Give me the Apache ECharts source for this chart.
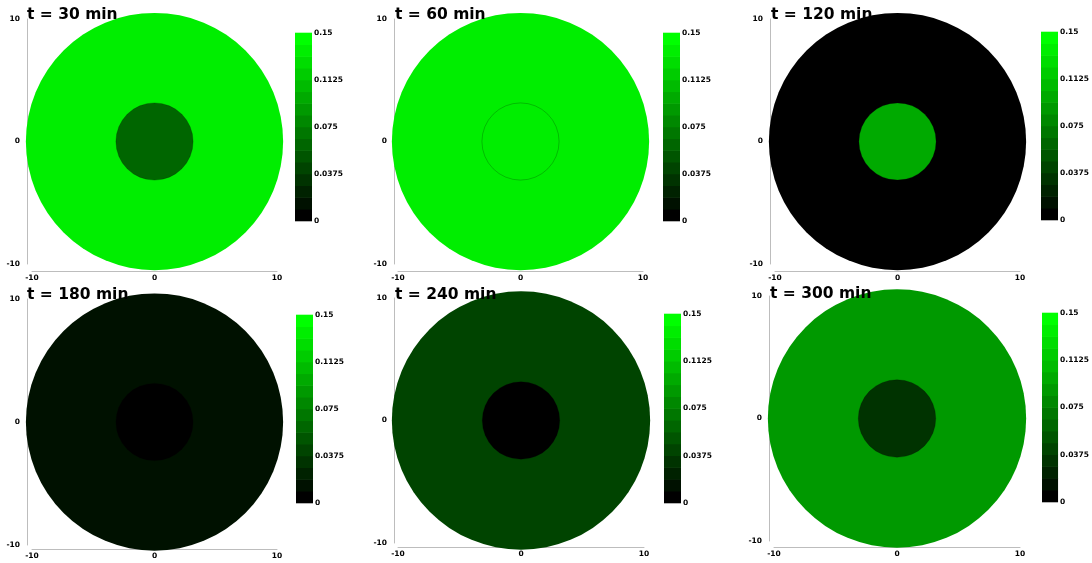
<!DOCTYPE html>
<html>
<head>
<meta charset="utf-8">
<script src="https://cdn.jsdelivr.net/npm/echarts@6/dist/echarts.min.js"></script>
<style>
html,body{margin:0;padding:0;background:#fff;}
#c{width:1092px;height:563px;}
</style>
</head>
<body>
<div id="c"></div>
<script>
// ---- data ----
const titles = ['t = 30 min', 't = 60 min', 't = 120 min', 't = 180 min', 't = 240 min', 't = 300 min'];
const outerValues = [0.135, 0.136, 0.002, 0.014, 0.040, 0.089];
const innerValues = [0.061, 0.136, 0.098, 0.003, 0.002, 0.032];
const outerRadius = 10.5;
const innerRadius = 3.15;
const axisTicks = [-10, 0, 10];
const colorbarTicks = ['0', '0.0375', '0.075', '0.1125', '0.15'];
const colorMin = 0, colorMax = 0.15;
const bandColors = ['#000000','#001100','#002200','#003300','#004400','#005500','#006600','#007700',
                    '#008800','#009900','#00aa00','#00bb00','#00cc00','#00dd00','#00ee00','#00ff00'];

// ---- layout ----
const panels = [
  {left:32,  top:19,  w:245, h:245, xOff:7, yOff:5, cbL:295,  cbT:33,  cbH:188, tL:27,  tT:7},
  {left:398, top:19,  w:245, h:245, xOff:7, yOff:4, cbL:663,  cbT:33,  cbH:188, tL:395, tT:7},
  {left:775, top:19,  w:245, h:245, xOff:7, yOff:5, cbL:1041, cbT:32,  cbH:188, tL:771, tT:7},
  {left:32,  top:299, w:245, h:246, xOff:4, yOff:5, cbL:296,  cbT:315, cbH:188, tL:27,  tT:287},
  {left:398, top:298, w:246, h:245, xOff:4, yOff:4, cbL:664,  cbT:314, cbH:189, tL:395, tT:287},
  {left:774, top:296, w:246, h:245, xOff:6, yOff:5, cbL:1042, cbT:313, cbH:189, tL:770, tT:286}
];

const nBands = bandColors.length;
const step = (colorMax - colorMin) / nBands;
const pieces = bandColors.map((c, i) => {
  const p = {gte: colorMin + i * step, color: c};
  if (i === nBands - 1) p.lte = colorMax + 1e-9; else p.lt = colorMin + (i + 1) * step;
  return p;
});
const bandData = bandColors.map((c, i) => [0, colorMin + i * step, colorMin + (i + 1) * step, colorMin + (i + 0.5) * step]);

const labelFont = {fontSize: 7.5, fontWeight: 'bold', color: '#000', fontFamily: 'DejaVu Sans'};
const axisLineStyle = {show: true, onZero: false, lineStyle: {color: '#bdbdbd', width: 1}};

const grid = [], xAxis = [], yAxis = [], series = [], title = [];
panels.forEach((p, i) => {
  grid.push({left: p.left, top: p.top, width: p.w, height: p.h});
  grid.push({left: p.cbL, top: p.cbT, width: 17, height: p.cbH});
  xAxis.push({gridIndex: 2*i, type: 'value', min: axisTicks[0], max: axisTicks[2], interval: 10,
    offset: p.xOff, axisLine: axisLineStyle, axisTick: {show: false}, splitLine: {show: false},
    axisLabel: Object.assign({margin: 3, formatter: v => String(v)}, labelFont)});
  yAxis.push({gridIndex: 2*i, type: 'value', min: axisTicks[0], max: axisTicks[2], interval: 10,
    offset: p.yOff, axisLine: axisLineStyle, axisTick: {show: false}, splitLine: {show: false},
    axisLabel: Object.assign({margin: 7, formatter: v => String(v)}, labelFont)});
  xAxis.push({gridIndex: 2*i+1, type: 'value', min: 0, max: 1, show: false});
  yAxis.push({gridIndex: 2*i+1, type: 'value', min: colorMin, max: colorMax, interval: 0.0375,
    position: 'right', axisLine: {show: false}, axisTick: {show: false}, splitLine: {show: false},
    axisLabel: Object.assign({margin: 2, formatter: (v) => {
      const idx = Math.round(v / 0.0375); return colorbarTicks[idx] !== undefined ? colorbarTicks[idx] : '';
    }}, labelFont)});
  series.push({
    type: 'custom', xAxisIndex: 2*i, yAxisIndex: 2*i, clip: false, z: 1,
    data: [[0, 0, outerRadius, outerValues[i], 0], [0, 0, innerRadius, innerValues[i], 1]],
    renderItem: function (params, api) {
      const c = api.coord([api.value(0), api.value(1)]);
      const s = api.size([api.value(2), api.value(2)]);
      const inner = api.value(4) === 1;
      return {type: 'circle', shape: {cx: c[0], cy: c[1], r: s[0]},
        style: {fill: api.visual('color'), stroke: inner ? 'rgba(0,0,0,0.3)' : null, lineWidth: inner ? 0.7 : 0}};
    }
  });
  series.push({
    type: 'custom', xAxisIndex: 2*i+1, yAxisIndex: 2*i+1,
    data: bandData,
    renderItem: function (params, api) {
      const p1 = api.coord([0, api.value(2)]);
      const p2 = api.coord([1, api.value(1)]);
      return {type: 'rect', shape: {x: p1[0], y: p1[1] - 0.3, width: p2[0] - p1[0], height: p2[1] - p1[1] + 0.6},
        style: {fill: api.visual('color')}};
    }
  });
  title.push({text: titles[i], left: p.tL, top: p.tT, padding: 0,
    textStyle: {fontSize: 15.5, fontWeight: 'bold', color: '#000', fontFamily: 'DejaVu Sans'}});
});

const chart = echarts.init(document.getElementById('c'), null, {renderer: 'canvas'});
chart.setOption({
  animation: false,
  backgroundColor: '#ffffff',
  title: title,
  grid: grid,
  xAxis: xAxis,
  yAxis: yAxis,
  visualMap: {type: 'piecewise', show: false, dimension: 3, seriesIndex: series.map((s, i) => i), pieces: pieces},
  series: series
});
</script>
</body>
</html>
